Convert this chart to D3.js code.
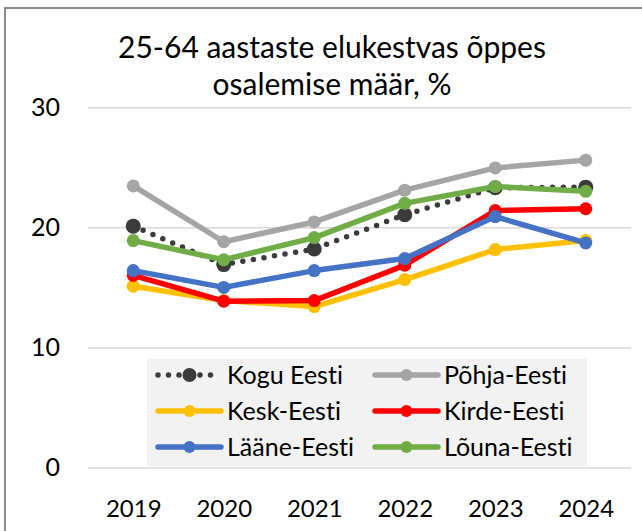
<!DOCTYPE html>
<html>
<head>
<meta charset="utf-8">
<script src="https://cdn.jsdelivr.net/npm/d3@7"></script>
<style>
  body { margin: 0; background: #fff; }
  svg { display: block; font-family: Lato, "Open Sans", sans-serif; font-variant-ligatures: none; }
</style>
</head>
<body>
<svg id="chart" width="642" height="531"></svg>
<script>
// data
var years = ["2019", "2020", "2021", "2022", "2023", "2024"];
var yTicks = [0, 10, 20, 30];
var titleLines = ["25-64 aastaste elukestvas õppes", "osalemise määr, %"];

var koguEesti  = [20.1, 16.9, 18.2, 21.05, 23.3, 23.35];
var pohjaEesti = [23.45, 18.8, 20.45, 23.1, 24.95, 25.6];
var keskEesti  = [15.1, 13.9, 13.4, 15.65, 18.15, 18.9];
var kirdeEesti = [16.0, 13.85, 13.9, 16.85, 21.4, 21.55];
var laaneEesti = [16.4, 15.0, 16.4, 17.4, 20.9, 18.7];
var lounaEesti = [18.9, 17.3, 19.15, 22.0, 23.4, 23.0];

var series = [
  { name: "Kogu Eesti",  values: koguEesti,  color: "#3b3b3b", dotted: true },
  { name: "Põhja-Eesti", values: pohjaEesti, color: "#a5a5a5" },
  { name: "Kesk-Eesti",  values: keskEesti,  color: "#ffc000" },
  { name: "Kirde-Eesti", values: kirdeEesti, color: "#ff0000" },
  { name: "Lääne-Eesti", values: laaneEesti, color: "#4472c4" },
  { name: "Lõuna-Eesti", values: lounaEesti, color: "#70ad47" }
];

var svg = d3.select("#chart");

// outer frame (the chart is cut off on the right and bottom)
svg.append("rect")
  .attr("x", 5).attr("y", 8)
  .attr("width", 700).attr("height", 600)
  .attr("fill", "#fff")
  .attr("stroke", "#8c8c8c")
  .attr("stroke-width", 2);

var x = d3.scalePoint().domain(years).range([88, 631]).padding(0.5);
var y = d3.scaleLinear().domain([0, 30]).range([467.5, 107.3]);

// title
svg.append("text")
  .attr("x", 332).attr("y", 58)
  .attr("text-anchor", "middle")
  .attr("font-size", 30)
  .attr("fill", "#000")
  .selectAll("tspan")
  .data(titleLines)
  .enter().append("tspan")
  .attr("x", 332)
  .attr("dy", function(d, i) { return i ? 37 : 0; })
  .text(function(d) { return d; });

// gridlines + y labels
var yAxis = d3.axisLeft(y).tickValues(yTicks).tickSize(-543).tickPadding(28);
var gy = svg.append("g").attr("transform", "translate(88,0)").call(yAxis);
gy.select(".domain").remove();
gy.selectAll(".tick line").attr("stroke", "#d9d9d9").attr("stroke-width", 1.5);
gy.selectAll(".tick text")
  .attr("font-size", 25).attr("fill", "#000")
  .attr("font-family", "Lato, sans-serif");

// x labels
var xAxis = d3.axisBottom(x).tickSize(0).tickPadding(32);
var gx = svg.append("g").attr("transform", "translate(0,467.5)").call(xAxis);
gx.select(".domain").remove();
gx.selectAll(".tick text")
  .attr("font-size", 24).attr("fill", "#000")
  .attr("font-family", "Lato, sans-serif");

// legend box
var legend = svg.append("g");
legend.append("rect")
  .attr("x", 147).attr("y", 359)
  .attr("width", 440).attr("height", 107)
  .attr("fill", "#f2f2f2");

// lines
var line = d3.line()
  .x(function(d, i) { return x(years[i]); })
  .y(function(d) { return y(d); });

series.forEach(function(s) {
  var g = svg.append("g");
  var p = g.append("path")
    .attr("d", line(s.values))
    .attr("fill", "none")
    .attr("stroke", s.color)
    .attr("stroke-width", 5.5)
    .attr("stroke-linejoin", "round")
    .attr("stroke-linecap", "round");
  if (s.dotted) p.attr("stroke-dasharray", "0 10.7");
  g.selectAll("circle")
    .data(s.values)
    .enter().append("circle")
    .attr("cx", function(d, i) { return x(years[i]); })
    .attr("cy", function(d) { return y(d); })
    .attr("r", s.dotted ? 7.5 : 6.5)
    .attr("fill", s.color);
});

// legend items
var cols = [158, 375];
var rows = [375, 411, 447];
series.forEach(function(s, i) {
  var lx = cols[i % 2], ly = rows[Math.floor(i / 2)];
  var g = legend.append("g").attr("transform", "translate(" + lx + "," + ly + ")");
  var p = g.append("line")
    .attr("x1", 0).attr("x2", 63)
    .attr("y1", 0).attr("y2", 0)
    .attr("stroke", s.color)
    .attr("stroke-width", 5.5)
    .attr("stroke-linecap", "round");
  if (s.dotted) p.attr("stroke-dasharray", "0 10.5");
  g.append("circle")
    .attr("cx", 31.5).attr("cy", 0)
    .attr("r", s.dotted ? 7 : 6)
    .attr("fill", s.color);
  g.append("text")
    .attr("x", 69).attr("y", 0)
    .attr("dy", "0.35em")
    .attr("font-size", 25)
    .attr("fill", "#000")
    .text(s.name);
});
</script>
</body>
</html>
